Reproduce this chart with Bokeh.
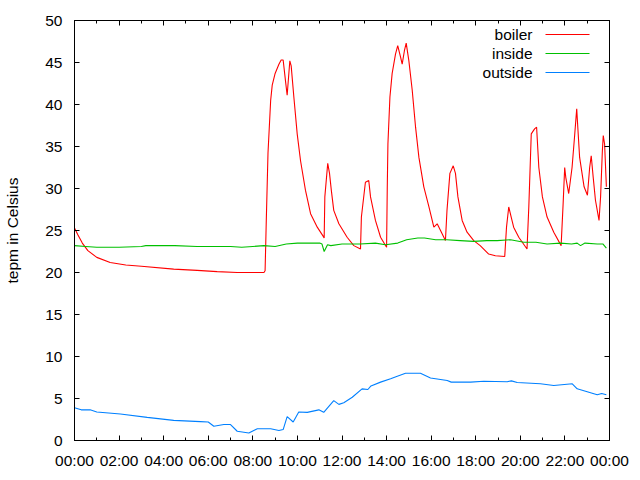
from bokeh.plotting import figure
from bokeh.models import (Range1d, FixedTicker, LinearAxis, CustomJSTickFormatter,
                          Label, BoxAnnotation)
from bokeh.embed import file_html
from bokeh.resources import INLINE

# ---------------- data (hours of day, temperature in Celsius) ----------------
boiler_hours = [0.0, 0.15, 0.35, 0.6, 1.0, 1.6, 2.3, 3.0, 4.45, 5.5, 6.4, 7.3, 8.5, 8.55,
                8.6, 8.68, 8.8, 8.87, 9.0, 9.17, 9.27, 9.36, 9.47, 9.54, 9.66, 9.72, 9.84,
                9.99, 10.14, 10.36, 10.59, 10.89, 11.16, 11.2, 11.23, 11.36, 11.44, 11.52,
                11.63, 11.86, 12.23, 12.53, 12.83, 12.87, 13.05, 13.2, 13.28, 13.5, 13.73,
                14.0, 14.03, 14.06, 14.15, 14.25, 14.4, 14.5, 14.63, 14.7, 14.8, 14.88,
                15.0, 15.15, 15.3, 15.45, 15.67, 15.9, 16.12, 16.27, 16.42, 16.64, 16.71,
                16.84, 16.99, 17.09, 17.2, 17.39, 17.61, 17.91, 18.2, 18.58, 18.88, 19.3,
                19.38, 19.48, 19.59, 19.7, 19.93, 20.3, 20.38, 20.49, 20.64, 20.73, 20.83,
                20.99, 21.2, 21.5, 21.83, 21.92, 21.99, 22.04, 22.17, 22.32, 22.43, 22.5,
                22.53, 22.56, 22.66, 22.86, 23.01, 23.11, 23.18, 23.27, 23.37, 23.53, 23.6,
                23.68, 23.72, 23.78, 23.86]
boiler_temp = [25.3, 24.5, 23.5, 22.6, 21.8, 21.2, 20.9, 20.75, 20.4, 20.25, 20.1, 20.0, 20.0, 20.2,
               25.8, 34.2, 40.5, 42.3, 43.7, 44.8, 45.3, 45.3, 42.7, 41.1, 45.2, 44.6, 40.9,
               36.5, 33.3, 29.8, 27.0, 25.4, 24.3, 24.1, 29.0, 33.0, 31.8, 29.8,
               27.4, 25.8, 24.2, 23.2, 22.8, 26.6, 30.75, 30.95, 29.0, 26.2, 24.2,
               23.0, 30.0, 35.3, 40.9, 43.7, 46.0, 47.0, 45.6, 44.8, 46.4, 47.3,
               45.2, 41.7, 37.3, 33.7, 30.2, 27.8, 25.4, 25.8, 25.0, 23.8, 27.4,
               31.8, 32.7, 31.8, 29.0, 26.2, 24.8, 23.8, 23.2, 22.2, 22.0, 21.9,
               25.4, 27.8, 26.6, 25.4, 24.2, 22.8, 27.8, 36.5, 37.1, 37.3, 32.5,
               29.0, 26.6, 24.8, 23.2, 28.2, 32.5, 31.3, 29.4, 32.5, 36.1, 38.5,
               39.5, 38.1, 33.7, 30.2, 29.2, 32.5, 33.9, 31.3, 28.6, 26.2, 29.0,
               34.5, 36.3, 35.3, 30.2]

inside_hours = [0.0, 0.5, 1.0, 2.0, 3.0, 3.2, 4.5, 5.5, 7.0, 7.5, 8.0, 8.5, 9.0, 9.5, 10.0,
                11.0, 11.1, 11.2, 11.35, 11.5, 12.0, 12.8, 13.5, 13.95, 14.5, 14.9, 15.4,
                15.7, 16.2, 16.7, 17.3, 17.9, 18.5, 18.96, 19.56, 20.16, 20.7, 21.2, 21.8,
                22.3, 22.55, 22.7, 22.9, 23.45, 23.7, 23.86]
inside_temp = [23.2, 23.1, 23.0, 23.0, 23.1, 23.2, 23.2, 23.1, 23.1, 23.0, 23.1, 23.2, 23.1, 23.4, 23.5,
               23.5, 23.4, 22.5, 23.3, 23.2, 23.4, 23.4, 23.5, 23.3, 23.5, 23.9, 24.1,
               24.1, 23.9, 23.9, 23.8, 23.7, 23.8, 23.8, 23.9, 23.6, 23.6, 23.4, 23.5,
               23.4, 23.5, 23.2, 23.5, 23.4, 23.4, 22.9]

outside_hours = [0.0, 0.3, 0.7, 1.0, 2.06, 3.26, 4.45, 5.65, 6.0, 6.25, 6.7, 7.0, 7.3, 7.82,
                 8.2, 8.8, 9.17, 9.36, 9.54, 9.81, 10.06, 10.44, 10.96, 11.18, 11.63, 11.86,
                 12.08, 12.46, 12.9, 13.16, 13.3, 13.73, 14.18, 14.48, 14.85, 15.52, 15.97,
                 16.72, 16.9, 17.77, 18.36, 19.41, 19.6, 19.86, 20.9, 21.5, 22.33, 22.55,
                 23.0, 23.45, 23.65, 23.86]
outside_temp = [3.9, 3.65, 3.65, 3.4, 3.15, 2.75, 2.4, 2.25, 2.2, 1.7, 1.9, 1.9, 1.1, 0.9,
                1.4, 1.4, 1.2, 1.3, 2.85, 2.2, 3.4, 3.35, 3.65, 3.35, 4.75, 4.3,
                4.5, 5.15, 6.15, 6.07, 6.5, 6.95, 7.35, 7.65, 8.0, 8.0, 7.45,
                7.15, 6.95, 6.95, 7.05, 7.0, 7.1, 6.9, 6.75, 6.55, 6.75, 6.15,
                5.8, 5.45, 5.6, 5.45]

x_ticks = [0, 2, 4, 6, 8, 10, 12, 14, 16, 18, 20, 22, 24]
x_minor_ticks = [1, 3, 5, 7, 9, 11, 13, 15, 17, 19, 21, 23]
x_tick_labels = ["00:00", "02:00", "04:00", "06:00", "08:00", "10:00", "12:00",
                 "14:00", "16:00", "18:00", "20:00", "22:00", "00:00"]
y_ticks = [0, 5, 10, 15, 20, 25, 30, 35, 40, 45, 50]

series_names = ["boiler", "inside", "outside"]
series_colors = ["#ff0000", "#00c000", "#0080ff"]

FONT = "Liberation Sans"
FSIZE = "15.5px"

p = figure(width=640, height=478, output_backend="svg", toolbar_location=None,
           x_range=Range1d(0, 24), y_range=Range1d(0, 50),
           min_border_left=74, min_border_right=31, min_border_top=20, min_border_bottom=38)
p.background_fill_color = "white"
p.border_fill_color = "white"
p.outline_line_color = "black"
p.outline_line_width = 1
p.xgrid.visible = False
p.ygrid.visible = False

for hrs, temps, name, col in zip([boiler_hours, inside_hours, outside_hours],
                                 [boiler_temp, inside_temp, outside_temp],
                                 series_names, series_colors):
    p.line(hrs, temps, line_color=col, line_width=1.1)

xt = FixedTicker(ticks=x_ticks, minor_ticks=x_minor_ticks)
yt = FixedTicker(ticks=y_ticks, minor_ticks=[])

def style_axis(ax):
    ax.axis_line_color = "black"
    ax.major_tick_in = 5
    ax.major_tick_out = 0
    ax.minor_tick_in = 3
    ax.minor_tick_out = 0
    ax.major_tick_line_color = "black"
    ax.minor_tick_line_color = "black"
    ax.major_label_text_font = FONT
    ax.major_label_text_font_size = FSIZE
    ax.major_label_text_color = "black"

xa = p.xaxis[0]
xa.ticker = xt
xa.major_label_overrides = {t: l for t, l in zip(x_ticks, x_tick_labels)}
style_axis(xa)
xa.major_label_standoff = 11

ya = p.yaxis[0]
ya.ticker = yt
style_axis(ya)
ya.major_label_standoff = 12
ya.axis_label = "tepm in Celsius"
ya.axis_label_text_font = FONT
ya.axis_label_text_font_size = FSIZE
ya.axis_label_text_font_style = "normal"
ya.axis_label_text_color = "black"
ya.axis_label_standoff = 21

blank = CustomJSTickFormatter(code="return ''")
top = LinearAxis(ticker=xt, formatter=blank)
style_axis(top)
top.major_label_standoff = 0
p.add_layout(top, "above")
right = LinearAxis(ticker=yt, formatter=blank)
style_axis(right)
right.major_label_standoff = 0
p.add_layout(right, "right")

# gnuplot-style key: right-aligned text, line sample to its right
for i, (name, col) in enumerate(zip(series_names, series_colors)):
    yc = 406 - 19 * i
    p.add_layout(Label(x=458, y=yc, x_units="screen", y_units="screen", text=name,
                       text_align="right", text_baseline="middle",
                       text_font=FONT, text_font_size=FSIZE, text_color="black"))
    p.add_layout(BoxAnnotation(left=471, right=515, bottom=yc - 0.5, top=yc + 0.5,
                               left_units="screen", right_units="screen",
                               bottom_units="screen", top_units="screen",
                               fill_color=col, fill_alpha=1, line_color=None))

open("out.html", "w").write(file_html(p, INLINE))
